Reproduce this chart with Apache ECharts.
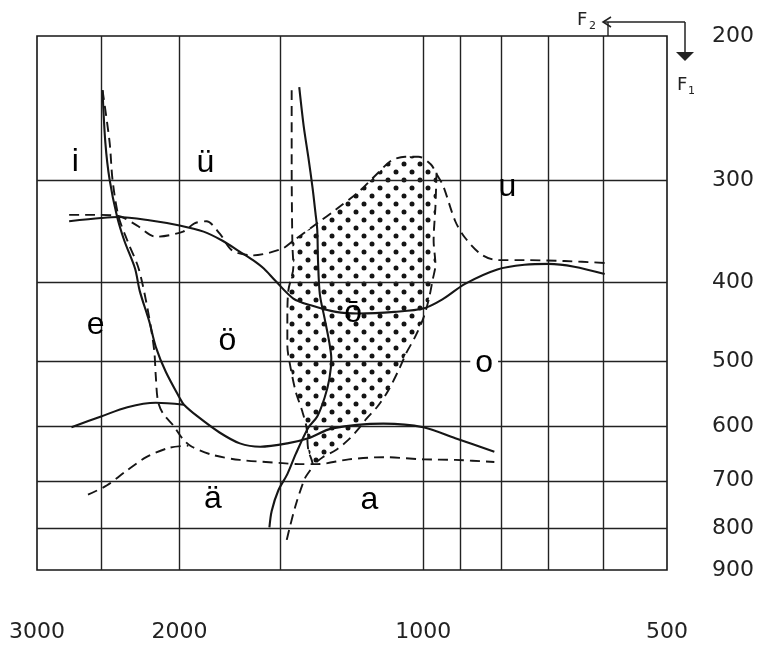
<!DOCTYPE html>
<html><head><meta charset="utf-8">
<script src="https://cdn.jsdelivr.net/npm/echarts@6/dist/echarts.min.js"></script>
<style>html,body{margin:0;padding:0;background:#fff}#c{width:762px;height:645px}</style>
</head><body><div id="c"></div>
<script>
// Axis ticks (Hz)
const f2Labels = [3000, 2000, 1000, 500];
const f1Labels = [200, 300, 400, 500, 600, 700, 800, 900];
const f2GridLines = [2500, 2000, 1500, 1000, 900, 800, 700, 600];
const f1GridLines = [300, 400, 500, 600, 700, 800];

// Curves: [F2, F1] in Hz
const solidA = [[2490,233],[2470,270],[2440,300],[2390,332],[2340,356],[2270,385],[2240,410],[2180,447],[2140,480],[2080,515],[2000,554],[1975,565],[1900,584],[1785,611],[1685,630],[1590,636],[1472,630],[1387,621],[1296,604],[1120,596],[1000,602],[913,621],[817,645]];
const solidHump = [[2720,602],[2500,584],[2320,569],[2140,562],[1975,565]];
const dashedB = [[2490,233],[2440,270],[2420,300],[2380,332],[2320,356],[2247,385],[2187,435],[2150,484],[2140,521],[2127,559],[2097,579],[2036,599],[1980,623],[1931,636],[1819,651],[1686,660],[1493,666],[1423,668],[1352,668],[1236,659],[1120,655],[1000,659],[913,660],[817,664]];
const dashedLowLeft = [[2595,728],[2458,709],[2337,683],[2199,655],[2061,638],[1951,634]];
const solidC = [[2738,337],[2500,334],[2380,333],[2181,336],[2000,341],[1868,347],[1770,356],[1686,367],[1623,376],[1574,385],[1525,398],[1447,419],[1377,427],[1282,435],[1201,437],[1085,435],[1000,431],[947,420],[888,402],[810,386],[750,381],[700,380],[651,383],[597,391]];
const dashedD = [[2738,331],[2555,331],[2380,332],[2259,341],[2139,352],[1980,347],[1917,339],[1853,337],[1784,349],[1721,366],[1623,371],[1493,364],[1447,356],[1352,339],[1282,326],[1201,310],[1141,295],[1095,284],[1053,281],[1014,281],[979,287],[961,296],[945,305],[913,337],[888,353],[848,370],[810,376],[750,376],[669,377],[597,379]];
const solidE = [[1423,231],[1405,258],[1387,281],[1370,307],[1359,329],[1352,345],[1349,377],[1342,414],[1324,443],[1306,475],[1299,496],[1306,525],[1324,554],[1352,584],[1387,603],[1437,649],[1472,687],[1510,719],[1539,762],[1549,798]];
const dashedF = [[1454,233],[1454,286],[1451,360],[1447,383],[1468,410],[1472,447],[1472,478],[1458,510],[1437,545],[1412,574],[1394,602],[1387,642],[1370,668],[1401,696],[1437,749],[1465,805],[1475,828]];
const dashedG = [[963,294],[966,323],[971,356],[966,381],[974,398],[984,419],[1000,443],[1025,468],[1049,488],[1070,510],[1106,544],[1141,569],[1176,588],[1201,604],[1236,623],[1282,642],[1331,655],[1370,670]];
const dottedRegion = [[1447,356],[1352,339],[1282,326],[1201,310],[1141,295],[1095,284],[1053,281],[1014,281],[979,287],[963,294],[966,323],[971,356],[966,381],[974,398],[984,419],[1000,443],[1025,468],[1049,488],[1070,510],[1106,544],[1141,569],[1176,588],[1201,604],[1236,623],[1282,642],[1331,655],[1370,670],[1387,642],[1394,602],[1412,574],[1437,545],[1458,510],[1472,478],[1472,447],[1468,410],[1447,383],[1451,360]];

// Vowel labels
const vowelNames = ['i','ü','u','e','ö','ō','o','ä','a'];
const vowelF2 = [2690, 1858, 787, 2540, 1745, 1221, 841, 1819, 1166];
const vowelF1 = [285, 286, 306, 451, 472, 436, 503, 738, 740];

const INK = '#161616';
const chart = echarts.init(document.getElementById('c'));

const pc = document.createElement('canvas');
pc.width = 16; pc.height = 16;
const g = pc.getContext('2d');
g.fillStyle = '#141414';
g.beginPath(); g.arc(4, 4, 2.5, 0, Math.PI*2); g.fill();
g.beginPath(); g.arc(12, 12, 2.5, 0, Math.PI*2); g.fill();

function lineSeries(data, dashed) {
  return {
    type: 'line', data: data, symbol: 'none', smooth: 0.3, silent: true, z: 5,
    lineStyle: { color: INK, width: dashed ? 1.9 : 2.1, type: dashed ? [10, 6] : 'solid' }
  };
}

const option = {
  animation: false,
  grid: { left: 37, right: 95, top: 36, bottom: 75, show: true, borderColor: INK, borderWidth: 1.6, backgroundColor: 'transparent' },
  xAxis: {
    type: 'log', min: 500, max: 3000, inverse: true, logBase: 10,
    axisLine: { show: false }, axisTick: { show: false }, splitLine: { show: false },
    axisLabel: { customValues: f2Labels, formatter: v => String(Math.round(v)), margin: 51, color: '#222', fontSize: 22, fontFamily: 'DejaVu Sans' }
  },
  yAxis: {
    type: 'log', min: 200, max: 900, inverse: true, position: 'right', logBase: 10,
    axisLine: { show: false }, axisTick: { show: false }, splitLine: { show: false },
    axisLabel: { customValues: f1Labels, formatter: v => String(Math.round(v)), margin: 45, color: '#222', fontSize: 22, fontFamily: 'DejaVu Sans' }
  },
  series: [
    {
      type: 'line', data: [], silent: true, z: 2,
      markLine: {
        silent: true, symbol: 'none', label: { show: false },
        lineStyle: { color: '#222', width: 1.4, type: 'solid' },
        data: f2GridLines.map(v => ({ xAxis: v })).concat(f1GridLines.map(v => ({ yAxis: v })))
      }
    },
    {
      type: 'custom', silent: true, z: 3, data: dottedRegion,
      renderItem: function (params, api) {
        if (params.dataIndex !== 0) return;
        const pts = dottedRegion.map(p => api.coord(p));
        return { type: 'polygon', shape: { points: pts, smooth: 0.2 }, style: { fill: { image: pc, repeat: 'repeat' }, stroke: null } };
      }
    },
    lineSeries(solidA, false),
    lineSeries(solidHump, false),
    lineSeries(solidC, false),
    lineSeries(solidE, false),
    lineSeries(dashedB, true),
    lineSeries(dashedLowLeft, true),
    lineSeries(dashedD, true),
    lineSeries(dashedF, true),
    lineSeries(dashedG, true),
    {
      type: 'scatter', silent: true, z: 6, symbolSize: 0,
      itemStyle: { opacity: 1 },
      data: vowelNames.map((n, i) => ({
        name: n, value: [vowelF2[i], vowelF1[i]],
        label: n === 'o' ? { backgroundColor: '#fff', padding: [0, 5] } : {}
      })),
      label: { show: true, position: 'inside', formatter: p => p.name, color: '#000', opacity: 1, textBorderWidth: 0, fontSize: 32, fontFamily: 'Liberation Sans' }
    }
  ],
  graphic: [
    { type: 'text', left: 577, top: 11, style: { text: 'F', font: '18px "DejaVu Sans"', fill: '#222' } },
    { type: 'text', left: 589, top: 21, style: { text: '2', font: '11px "DejaVu Sans"', fill: '#222' } },
    { type: 'line', shape: { x1: 603, y1: 22, x2: 685, y2: 22 }, style: { stroke: '#222', lineWidth: 1.5 } },
    { type: 'polyline', shape: { points: [[611, 17], [603, 22], [611, 27]] }, style: { stroke: '#222', lineWidth: 1.5, fill: null } },
    { type: 'line', shape: { x1: 608, y1: 22, x2: 608, y2: 36 }, style: { stroke: '#222', lineWidth: 1.4 } },
    { type: 'line', shape: { x1: 685, y1: 22, x2: 685, y2: 54 }, style: { stroke: '#222', lineWidth: 1.5 } },
    { type: 'polygon', shape: { points: [[676, 52], [694, 52], [685, 61]] }, style: { fill: '#222' } },
    { type: 'text', left: 677, top: 76, style: { text: 'F', font: '18px "DejaVu Sans"', fill: '#222' } },
    { type: 'text', left: 688, top: 86, style: { text: '1', font: '11px "DejaVu Sans"', fill: '#222' } }
  ]
};
chart.setOption(option);
</script>
</body></html>
